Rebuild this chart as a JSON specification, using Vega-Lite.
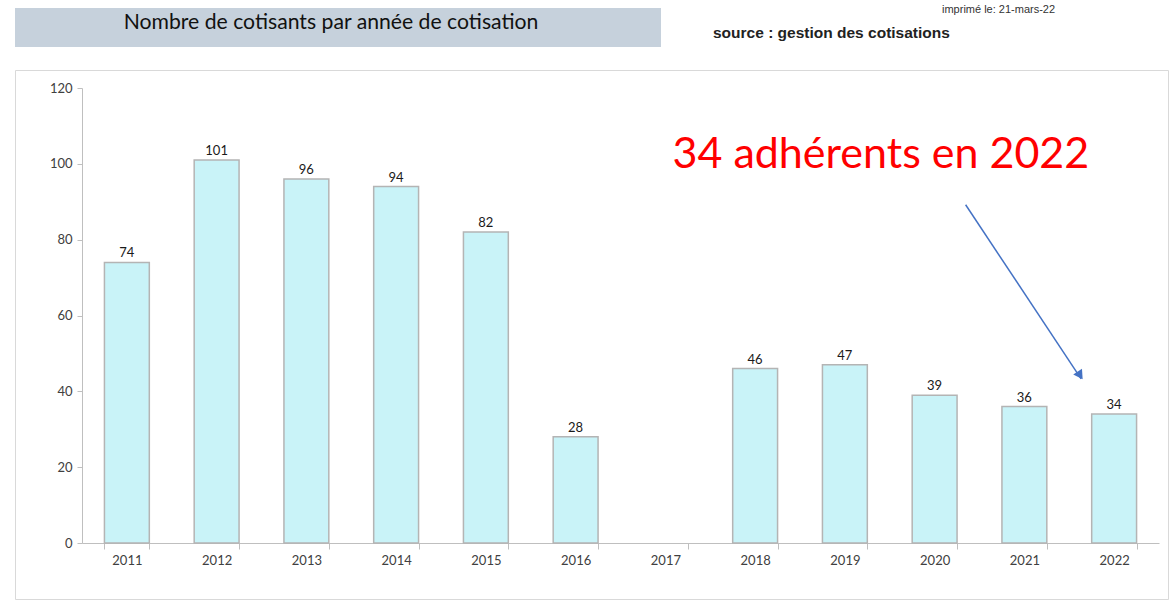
{
  "$schema": "https://vega.github.io/schema/vega-lite/v6.json",
  "padding": {"left": 14, "top": 4, "right": 0, "bottom": 0},
  "background": "white",
  "spacing": 22,
  "config": {"font": "Lato", "concat": {"spacing": 0}},
  "vconcat": [
    {
      "hconcat": [
        {
          "width": 646,
          "height": 39,
          "view": {"fill": "#c6d1dc", "stroke": null},
          "data": {"values": [{"t": "Nombre de cotisants par année de cotisation"}]},
          "mark": {"type": "text", "fontSize": 21.2, "font": "Lato", "color": "#111111", "dx": -7, "dy": -5, "baseline": "middle"},
          "encoding": {"text": {"field": "t"}}
        },
        {
          "width": 510,
          "height": 39,
          "view": {"stroke": null},
          "layer": [
            {
              "data": {"values": [{"t": "source : gestion des cotisations"}]},
              "mark": {"type": "text", "font": "Liberation Sans", "fontSize": 15.5, "fontWeight": "bold", "color": "#222222", "align": "left", "baseline": "middle", "dx": -203, "dy": 5.5},
              "encoding": {"text": {"field": "t"}}
            },
            {
              "data": {"values": [{"t": "imprimé le:  21-mars-22"}]},
              "mark": {"type": "text", "font": "Liberation Sans", "fontSize": 11, "color": "#333333", "align": "left", "baseline": "middle", "dx": 26, "dy": -17.5},
              "encoding": {"text": {"field": "t"}}
            }
          ]
        }
      ]
    },
    {
      "width": 1153,
      "height": 529,
      "view": {"fill": "white", "stroke": "#d9d9d9", "strokeWidth": 1},
      "data": {"values": [
        {"annee": "2011", "cotisants": 74},
        {"annee": "2012", "cotisants": 101},
        {"annee": "2013", "cotisants": 96},
        {"annee": "2014", "cotisants": 94},
        {"annee": "2015", "cotisants": 82},
        {"annee": "2016", "cotisants": 28},
        {"annee": "2018", "cotisants": 46},
        {"annee": "2019", "cotisants": 47},
        {"annee": "2020", "cotisants": 39},
        {"annee": "2021", "cotisants": 36},
        {"annee": "2022", "cotisants": 34}
      ]},
      "encoding": {
        "x": {
          "field": "annee", "type": "nominal", "title": null,
          "scale": {"domain": ["2011","2012","2013","2014","2015","2016","2017","2018","2019","2020","2021","2022"], "range": [67, 1144], "paddingInner": 0.5, "paddingOuter": 0.25},
          "axis": {"orient": "bottom", "offset": -56, "labelAngle": 0, "tickBand": "extent", "domainColor": "#bfbfbf", "tickColor": "#bfbfbf", "tickSize": 6, "labelFont": "Lato", "labelFontSize": 13, "labelColor": "#404040", "labelPadding": 5, "grid": false}
        },
        "y": {
          "field": "cotisants", "type": "quantitative", "title": null,
          "scale": {"domain": [0, 120], "range": [473, 18], "nice": false},
          "axis": {"orient": "left", "offset": -67, "values": [0, 20, 40, 60, 80, 100, 120], "domainColor": "#bfbfbf", "tickColor": "#bfbfbf", "tickSize": 5, "labelFont": "Lato", "labelFontSize": 13, "labelColor": "#404040", "labelPadding": 5, "grid": false}
        }
      },
      "layer": [
        {
          "mark": {"type": "bar", "fill": "#c9f3f8", "stroke": "#b4b4b4", "strokeWidth": 1.5}
        },
        {
          "mark": {"type": "text", "baseline": "bottom", "dy": -2, "fontSize": 13, "font": "Lato", "color": "#1a1a1a"},
          "encoding": {"text": {"field": "cotisants", "type": "quantitative"}}
        },
        {
          "data": {"values": [{"annee": "2019", "cotisants": 102.2, "t": "34 adhérents en 2022"}]},
          "mark": {"type": "text", "fontSize": 43, "font": "Lato", "color": "#ff0000", "baseline": "middle", "align": "center", "dx": 36},
          "encoding": {"text": {"field": "t"}}
        },
        {
          "data": {"values": [{"de": "2020", "a": "2022", "haut": 89.2, "bas": 43.3}]},
          "mark": {"type": "rule", "color": "#4472c4", "strokeWidth": 1.5, "xOffset": 31, "x2Offset": -33},
          "encoding": {
            "x": {"field": "de", "type": "nominal"},
            "x2": {"field": "a"},
            "y": {"field": "haut", "type": "quantitative"},
            "y2": {"field": "bas"}
          }
        },
        {
          "data": {"values": [{"annee": "2022", "cotisants": 44.2}]},
          "mark": {"type": "point", "shape": "triangle-up", "filled": true, "color": "#4472c4", "opacity": 1, "size": 110, "angle": 146.5, "xOffset": -34}
        }
      ]
    }
  ]
}
